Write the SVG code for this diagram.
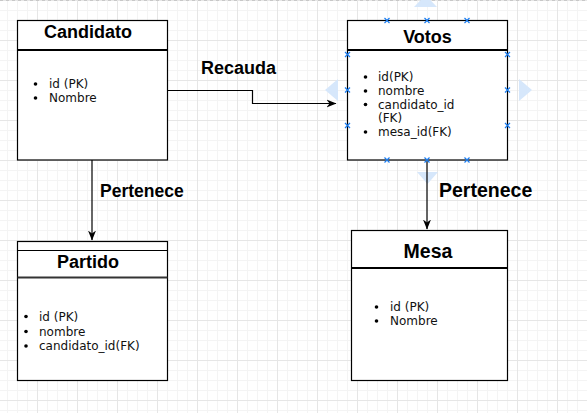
<svg xmlns="http://www.w3.org/2000/svg" width="587" height="413" viewBox="0 0 587 413">
<style>
.box{fill:#fff;stroke:#000;stroke-width:1.2}
.hdr{stroke:#000;stroke-width:2.2}
.title{font-family:"Liberation Sans",Arial,sans-serif;font-weight:bold;fill:#000;text-anchor:middle}
.item{font-family:"DejaVu Sans",Verdana,sans-serif;font-size:12px;fill:#111}
.lbl{font-family:"Liberation Sans",Arial,sans-serif;font-weight:bold;fill:#000}
.edge{fill:none;stroke:#000;stroke-width:1.2}
.hint{fill:#d6e7fb}
.hdl{stroke:#1a7cf0;stroke-width:1.2}
</style>
<defs>
<pattern id="grid" patternUnits="userSpaceOnUse" x="-3" y="0" width="40" height="40">
<rect width="40" height="40" fill="#fff"/>
<path d="M10.5 0V40M20.5 0V40M30.5 0V40M0 10.5H40M0 20.5H40M0 30.5H40" stroke="#f4f4f4" stroke-width="1"/>
<path d="M0.5 0V40M0 0.5H40" stroke="#e6e6e6" stroke-width="1"/>
</pattern>
<marker id="arr" viewBox="0 0 10 10" refX="9.5" refY="5" markerWidth="10" markerHeight="10" markerUnits="userSpaceOnUse" orient="auto">
<path d="M0 1L10 5L0 9L3 5Z" fill="#000"/>
</marker>
<g id="x"><path d="M-2.5 -2.5L2.5 2.5M-2.5 2.5L2.5 -2.5" class="hdl"/></g>
</defs>
<rect width="587" height="413" fill="url(#grid)"/>
<line x1="0" y1="0.5" x2="587" y2="0.5" stroke="#c8c8c8" stroke-dasharray="3,3"/>

<g id="hints">
<polygon class="hint" points="414,7 437,7 425.5,-5"/>
<polygon class="hint" points="417,172 438,172 427.5,184"/>
<polygon class="hint" points="338,79 338,101 325,90"/>
<polygon class="hint" points="519,79 519,101 532,90"/>
</g>

<g id="connectors">
<path class="edge" d="M92 160V240" marker-end="url(#arr)"/>
<path class="edge" d="M427 160V229" marker-end="url(#arr)"/>
<path class="edge" d="M167 90.5H252.5V103.5H336" marker-end="url(#arr)"/>
<text class="lbl" x="100" y="197" font-size="17.5">Pertenece</text>
<text class="lbl" x="439" y="197" font-size="19.5">Pertenece</text>
<text class="lbl" x="201" y="74" font-size="18">Recauda</text>
</g>

<g id="candidato">
<rect class="box" x="17.5" y="20.5" width="150" height="139.5"/>
<line class="hdr" x1="17.5" y1="50" x2="167.5" y2="50"/>
<text class="title" x="88" y="38" font-size="18">Candidato</text>
<circle cx="35.5" cy="84" r="1.8"/><circle cx="35.5" cy="98" r="1.8"/>
<text class="item" x="49" y="88">id (PK)</text>
<text class="item" x="49" y="102">Nombre</text>
</g>

<g id="votos">
<rect class="box" x="347.5" y="20.5" width="160" height="139.5"/>
<line class="hdr" x1="347.5" y1="50" x2="507.5" y2="50"/>
<text class="title" x="427.5" y="43" font-size="18">Votos</text>
<circle cx="365.5" cy="77" r="1.8"/><circle cx="365.5" cy="91" r="1.8"/><circle cx="365.5" cy="104.5" r="1.8"/><circle cx="365.5" cy="132" r="1.8"/>
<text class="item" x="378" y="81">id(PK)</text>
<text class="item" x="378" y="95">nombre</text>
<text class="item" x="378" y="108.5">candidato_id</text>
<text class="item" x="378" y="122">(FK)</text>
<text class="item" x="378" y="136">mesa_id(FK)</text>
<use href="#x" x="387" y="20.5"/><use href="#x" x="427" y="20.5"/><use href="#x" x="467" y="20.5"/>
<use href="#x" x="387" y="160"/><use href="#x" x="427" y="160"/><use href="#x" x="467" y="160"/>
<use href="#x" x="347.5" y="54.5"/><use href="#x" x="347.5" y="90"/><use href="#x" x="347.5" y="125.5"/>
<use href="#x" x="507.5" y="54.5"/><use href="#x" x="507.5" y="90"/><use href="#x" x="507.5" y="125.5"/>
</g>

<g id="partido">
<rect class="box" x="17.5" y="241.5" width="150" height="139"/>
<line x1="17.5" y1="250.5" x2="167.5" y2="250.5" stroke="#000" stroke-width="1"/>
<line x1="17.5" y1="277.5" x2="167.5" y2="277.5" stroke="#333" stroke-width="2"/>
<text class="title" x="88" y="268" font-size="18">Partido</text>
<circle cx="26" cy="316.5" r="1.8"/><circle cx="26" cy="331.5" r="1.8"/><circle cx="26" cy="346" r="1.8"/>
<text class="item" x="39" y="321" font-size="13.5">id (PK)</text>
<text class="item" x="39" y="335.5" font-size="13.5">nombre</text>
<text class="item" x="39" y="350" font-size="13.5">candidato_id(FK)</text>
</g>

<g id="mesa">
<rect class="box" x="351.5" y="230.5" width="156" height="150"/>
<line class="hdr" x1="351.5" y1="268" x2="507.5" y2="268"/>
<text class="title" x="428" y="258" font-size="19.5">Mesa</text>
<circle cx="376.5" cy="307" r="1.8"/><circle cx="376.5" cy="321" r="1.8"/>
<text class="item" x="390" y="311">id (PK)</text>
<text class="item" x="390" y="325">Nombre</text>
</g>
</svg>
